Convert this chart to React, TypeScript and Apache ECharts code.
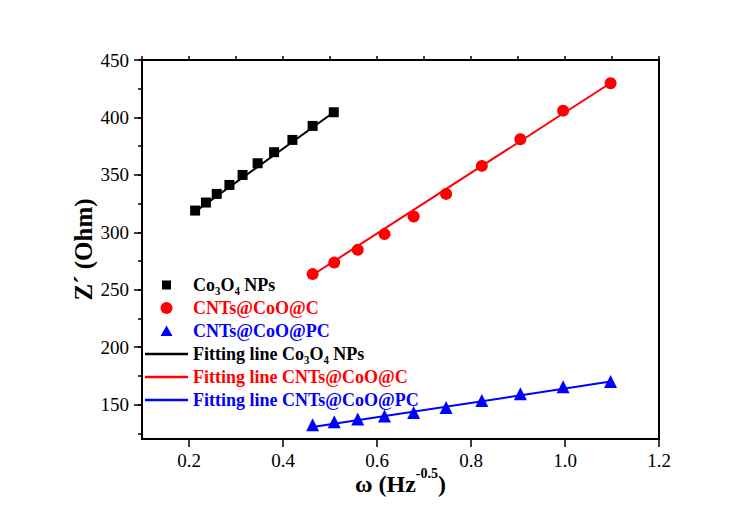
import React, { useEffect, useRef } from 'react';
import * as echarts from 'echarts';

// ω (Hz^-0.5) values
const co3o4X = [0.213, 0.236, 0.259, 0.286, 0.314, 0.346, 0.381, 0.42, 0.463, 0.508];
const co3o4Y = [318.9, 325.9, 333.4, 341.2, 349.9, 360.1, 369.7, 380.4, 392.6, 404.5];
const cntsX = [0.463, 0.509, 0.559, 0.616, 0.678, 0.747, 0.823, 0.905, 0.996, 1.097];
const cocY = [263.6, 273.6, 284.7, 298.4, 313.7, 333.4, 357.8, 381.0, 405.9, 429.7];
const copcY = [132.5, 135, 137.5, 140, 143, 147.5, 153.5, 159.5, 165.5, 170];

// fitting line end points
const fitCo3o4X = [0.213, 0.508];
const fitCo3o4Y = [318.0, 404.5];
const fitCocX = [0.458, 1.097];
const fitCocY = [261.5, 430.0];
const fitCopcX = [0.463, 1.097];
const fitCopcY = [130.5, 170.0];

const names = [
  'Co₃O₄ NPs',
  'CNTs@CoO@C',
  'CNTs@CoO@PC',
  'Fitting line Co₃O₄ NPs',
  'Fitting line CNTs@CoO@C',
  'Fitting line CNTs@CoO@PC',
];
const colors = ['#000000', '#ff0000', '#0000ff', '#000000', '#ff0000', '#0000ff'];

const FONT = "'Times New Roman', 'Liberation Serif', 'DejaVu Serif', serif";

const zip = (xs: number[], ys: number[]) => xs.map((x, i) => [x, ys[i]]);

export default function App() {
  const ref = useRef<HTMLDivElement>(null);
  useEffect(() => {
    if (!ref.current) return;
    const chart = echarts.init(ref.current, undefined, { renderer: 'svg' });
    const tickStyle = { color: '#000', width: 1.5 };
    const hiddenAxis = {
      axisLine: { show: false },
      axisTick: { show: false },
      axisLabel: { show: false },
      splitLine: { show: false },
    };
    const lineIcon = 'path://M0,0h43v2.5h-43z';
    const option: any = {
      animation: false,
      backgroundColor: '#ffffff',
      grid: [
        { left: 142, right: 90, top: 60, bottom: 83, show: true, borderColor: '#000', borderWidth: 2, backgroundColor: 'transparent' },
        { left: 189, right: 90, top: 60, bottom: 83 },
        { left: 142, right: 90, top: 60, bottom: 117.45 },
        { left: 142, right: 90, top: 60, bottom: 88.74 },
      ],
      xAxis: [
        {
          gridIndex: 0, type: 'value', min: 0.1, max: 1.2, ...hiddenAxis,
          name: '{a|ω (Hz}{s|-0.5}{a|)}',
          nameLocation: 'middle',
          nameGap: 27,
          nameTextStyle: {
            rich: {
              a: { fontFamily: FONT, fontSize: 24, fontWeight: 'bold', color: '#000', verticalAlign: 'bottom', lineHeight: 30 },
              s: { fontFamily: FONT, fontSize: 14, fontWeight: 'bold', color: '#000', verticalAlign: 'top', lineHeight: 15 },
            },
          },
        },
        {
          gridIndex: 0, type: 'value', min: 0.1, max: 1.2, interval: 0.1,
          axisLine: { show: false }, axisLabel: { show: false }, splitLine: { show: false },
          axisTick: { show: true, length: 4, lineStyle: tickStyle },
        },
        {
          gridIndex: 1, type: 'value', min: 0.2, max: 1.2, interval: 0.2,
          axisLine: { show: false }, splitLine: { show: false },
          axisTick: { show: true, length: 8, lineStyle: tickStyle },
          axisLabel: { margin: 12, fontSize: 19, fontFamily: FONT, color: '#000', formatter: (v: number) => v.toFixed(1) },
        },
        { gridIndex: 2, type: 'value', min: 0, max: 1, show: false },
        { gridIndex: 3, type: 'value', min: 0, max: 1, show: false },
      ],
      yAxis: [
        {
          gridIndex: 0, type: 'value', min: 120, max: 450, ...hiddenAxis,
          name: 'Z´ (Ohm)',
          nameLocation: 'middle',
          nameGap: 46,
          nameTextStyle: { fontFamily: FONT, fontSize: 25, fontWeight: 'bold', color: '#000' },
        },
        {
          gridIndex: 3, type: 'value', min: 125, max: 450, interval: 25,
          axisLine: { show: false }, axisLabel: { show: false }, splitLine: { show: false },
          axisTick: { show: true, length: 4, lineStyle: tickStyle },
        },
        {
          gridIndex: 2, type: 'value', min: 150, max: 450, interval: 50,
          axisLine: { show: false }, splitLine: { show: false },
          axisTick: { show: true, length: 8, lineStyle: tickStyle },
          axisLabel: { margin: 13, fontSize: 19, fontFamily: FONT, color: '#000' },
        },
        { gridIndex: 1, type: 'value', min: 0, max: 1, show: false },
      ],
      legend: {
        orient: 'vertical',
        left: 145,
        top: 273.5,
        padding: 0,
        itemGap: 0,
        itemWidth: 43,
        itemHeight: 12,
        symbolKeepAspect: true,
        selectedMode: false,
        textStyle: { fontFamily: FONT, fontSize: 18, fontWeight: 'bold', lineHeight: 23 },
        data: [
          { name: names[0], icon: 'path://M0,0M12,12M1.5,1.5h9v9h-9z', textStyle: { color: colors[0] } },
          { name: names[1], icon: 'path://M0,6a6,6 0 1,0 12,0a6,6 0 1,0 -12,0z', textStyle: { color: colors[1] } },
          { name: names[2], icon: 'path://M0,0M12,12M6,0.5L12,11L0,11z', textStyle: { color: colors[2] } },
          { name: names[3], icon: lineIcon, itemStyle: { color: colors[3] }, textStyle: { color: colors[3] } },
          { name: names[4], icon: lineIcon, itemStyle: { color: colors[4] }, textStyle: { color: colors[4] } },
          { name: names[5], icon: lineIcon, itemStyle: { color: colors[5] }, textStyle: { color: colors[5] } },
        ],
      },
      series: [
        { name: names[3], type: 'line', xAxisIndex: 0, yAxisIndex: 0, data: zip(fitCo3o4X, fitCo3o4Y), symbol: 'none', lineStyle: { color: colors[3], width: 2 }, itemStyle: { color: colors[3] }, z: 2 },
        { name: names[4], type: 'line', xAxisIndex: 0, yAxisIndex: 0, data: zip(fitCocX, fitCocY), symbol: 'none', lineStyle: { color: colors[4], width: 2 }, itemStyle: { color: colors[4] }, z: 2 },
        { name: names[5], type: 'line', xAxisIndex: 0, yAxisIndex: 0, data: zip(fitCopcX, fitCopcY), symbol: 'none', lineStyle: { color: colors[5], width: 2 }, itemStyle: { color: colors[5] }, z: 2 },
        { name: names[0], type: 'scatter', xAxisIndex: 0, yAxisIndex: 0, data: zip(co3o4X, co3o4Y), symbol: 'rect', symbolSize: 10, itemStyle: { color: colors[0], opacity: 1 }, z: 3 },
        { name: names[1], type: 'scatter', xAxisIndex: 0, yAxisIndex: 0, data: zip(cntsX, cocY), symbol: 'circle', symbolSize: 12, itemStyle: { color: colors[1], opacity: 1 }, z: 3 },
        { name: names[2], type: 'scatter', xAxisIndex: 0, yAxisIndex: 0, data: zip(cntsX, copcY), symbol: 'triangle', symbolSize: 13, itemStyle: { color: colors[2], opacity: 1 }, z: 3 },
      ],
    };
    chart.setOption(option);
    return () => chart.dispose();
  }, []);
  return <div ref={ref} style={{ position: 'absolute', left: 0, top: 0, width: 749, height: 522 }} />;
}
